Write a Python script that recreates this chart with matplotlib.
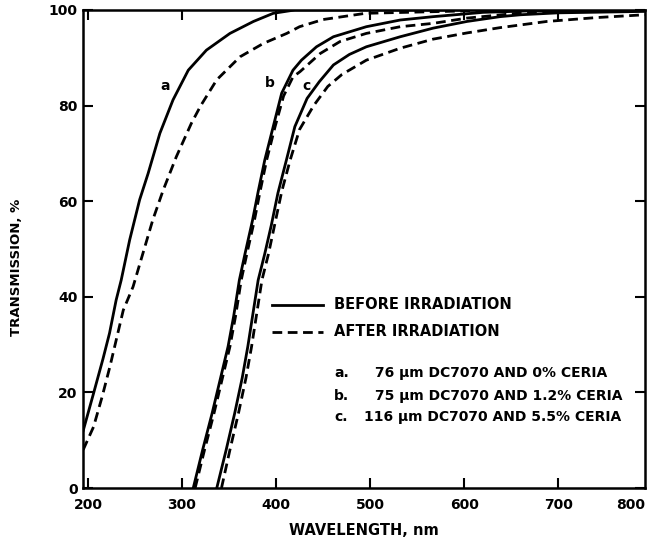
import numpy as np
import matplotlib
matplotlib.use("Agg")
import matplotlib.pyplot as plt

# values (wavelength nm, transmission %)
wl_a_before = [195, 206, 216, 223, 230, 235.4, 244.4, 255, 264, 276.5, 290.5, 306.7, 326,
               351, 376, 397, 420, 792]
tr_a_before = [12, 19.8, 27, 32.4, 39.3, 43.5, 51.9, 60.3, 65.8, 74.2, 81.2, 87.4, 91.6,
               95.1, 97.6, 99.3, 100, 100]

wl_a_after = [195, 206, 215, 223.4, 237.6, 248, 258.5, 269, 280, 294, 310, 320, 337, 361.7,
              386.5, 411.4, 425, 450, 495, 600, 792]
tr_a_after = [8, 12.8, 19, 25.4, 37.2, 42.1, 49.1, 56.1, 62.3, 69.3, 76.3, 80, 85.4, 90.2,
              93, 95.1, 96.5, 98, 99.3, 99.8, 100]

wl_b_before = [312, 322, 332, 341, 349, 355, 361, 367, 375, 381, 388, 397, 406, 418, 427,
               443, 461, 496, 532, 567, 620, 700, 792]
tr_b_before = [0, 8, 15.6, 23, 29.6, 36, 43.5, 49, 56, 62, 68.6, 75.6, 82.6, 87.4, 89.5,
               92.3, 94.4, 96.5, 97.9, 98.6, 99.5, 100, 100]

wl_b_after = [314, 324, 334, 343, 351, 357, 363, 369, 377, 383, 390, 399, 408, 418, 425.5,
              447, 468, 496, 532, 567, 603, 656, 700, 792]
tr_b_after = [0, 8, 15.6, 23, 29.6, 36, 43.5, 49, 56, 62, 68.6, 75.6, 82, 86, 87.1,
              90.9, 93.4, 95.1, 96.5, 97.2, 98.3, 99.3, 99.7, 100]

wl_c_before = [337, 347, 356, 364, 370, 381, 388, 395, 402, 411, 420, 433, 446, 461, 478,
               496, 532, 567, 603, 638, 660, 700, 792]
tr_c_before = [0, 8, 15.6, 23, 29.6, 43.5, 49, 55, 61.7, 68.6, 75.6, 81.5, 85, 88.5, 90.7,
               92.3, 94.4, 96.2, 97.6, 98.6, 99, 99.4, 99.7]

wl_c_after = [342, 351, 360, 368, 374, 385, 392, 399, 406, 415, 425, 440, 455, 470, 496,
              532, 567, 603, 638, 688, 740, 792]
tr_c_after = [0, 8, 15.6, 23, 29.6, 43.5, 49, 55.5, 62, 68.6, 75, 80, 84, 86.5, 89.5,
              92, 93.9, 95.2, 96.3, 97.6, 98.4, 99]

xticks = [200, 300, 400, 500, 600, 700]
yticks = [0, 20, 40, 60, 80, 100]

sample_tags = ["a.", "b.", "c."]
sample_text = ["76 \u03bcm DC7070 AND 0% CERIA",
               "75 \u03bcm DC7070 AND 1.2% CERIA",
               "116 \u03bcm DC7070 AND 5.5% CERIA"]
sample_x = [505, 505, 494]
sample_y = [24, 19.3, 14.9]

plt.rcParams["font.family"] = "DejaVu Sans"
plt.rcParams["font.weight"] = "bold"

fig = plt.figure(figsize=(6.5, 5.42), dpi=100)
ax = fig.add_axes([0.128, 0.0996, 0.864, 0.882])

lw = 2.0
dash = (3.5, 2.0)
ax.plot(wl_a_before, tr_a_before, color="black", lw=lw)
ax.plot(wl_a_after, tr_a_after, color="black", lw=lw, ls=(0, dash))
ax.plot(wl_b_after, tr_b_after, color="black", lw=lw, ls=(0, dash))
ax.plot(wl_b_before, tr_b_before, color="black", lw=lw)
ax.plot(wl_c_before, tr_c_before, color="black", lw=lw)
ax.plot(wl_c_after, tr_c_after, color="black", lw=lw, ls=(0, dash))

# curve letters
ax.text(282, 84.2, "a", fontsize=10, fontweight="bold", ha="center", va="center")
ax.text(393.6, 84.7, "b", fontsize=10, fontweight="bold", ha="center", va="center")
ax.text(432.6, 84, "c", fontsize=10, fontweight="bold", ha="center", va="center")

# key drawn inside the plot
ax.plot([395.5, 450], [38.3, 38.3], color="black", lw=lw)
ax.plot([395.5, 450], [32.7, 32.7], color="black", lw=lw, ls=(0, dash))
ax.text(461.6, 38.3, "BEFORE IRRADIATION", fontsize=10.5, fontweight="bold", va="center")
ax.text(461.6, 32.7, "AFTER IRRADIATION", fontsize=10.5, fontweight="bold", va="center")
for tag, s, x, y in zip(sample_tags, sample_text, sample_x, sample_y):
    ax.text(461.6, y, tag, fontsize=10, fontweight="bold", va="center")
    ax.text(x, y, s, fontsize=10, fontweight="bold", va="center")

ax.set_xlim(195, 792)
ax.set_ylim(0, 100)
ax.set_xticks(xticks)
ax.set_yticks(yticks)
ax.tick_params(direction="in", top=True, right=True, length=7, width=1.5,
               labelsize=10)
ax.tick_params(axis="x", pad=7)
ax.tick_params(axis="y", pad=4)
for lab in ax.get_xticklabels() + ax.get_yticklabels():
    lab.set_fontweight("bold")
# last tick label sits at the right frame edge
ax.annotate("800", xy=(1, 0), xycoords="axes fraction", xytext=(0, -7),
            textcoords="offset points", ha="right", va="top",
            fontsize=10, fontweight="bold")
for sp in ax.spines.values():
    sp.set_linewidth(1.8)

ax.set_xlabel("WAVELENGTH, nm", fontsize=10.5, fontweight="bold", labelpad=8)
ax.set_ylabel("TRANSMISSION, %", fontsize=9.5, fontweight="bold")
ax.yaxis.set_label_coords(-0.108, 0.462)

fig.savefig("out.png", dpi=100)
